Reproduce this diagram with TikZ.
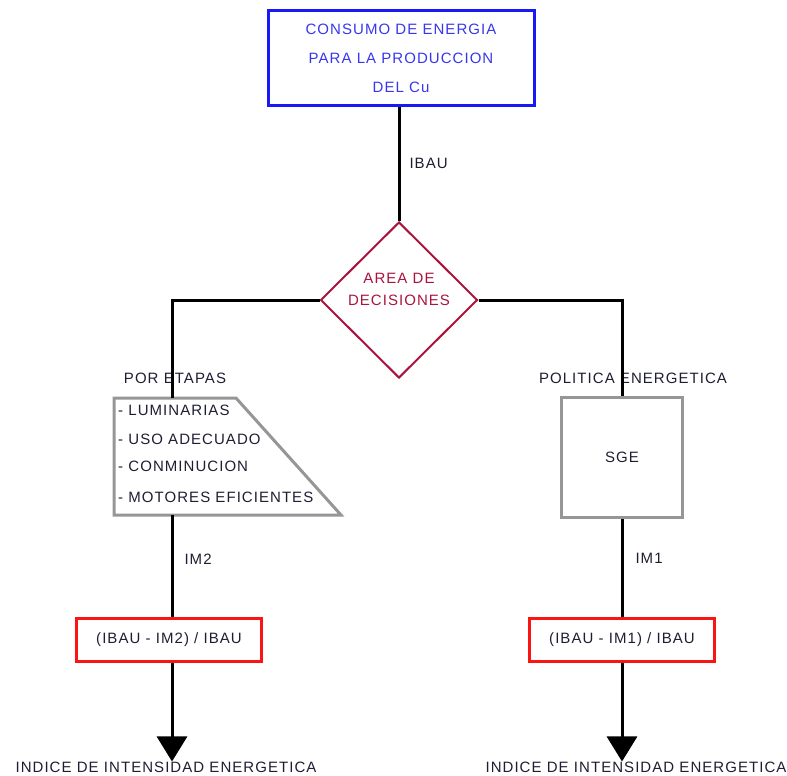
\documentclass[tikz,border=0pt]{standalone}
\usepackage{fontspec}
\setmainfont[LetterSpace=7]{Liberation Sans}
\usetikzlibrary{shapes.geometric,arrows.meta}
\definecolor{topblue}{RGB}{25, 25, 245}
\definecolor{toptext}{RGB}{55, 55, 235}
\definecolor{decision}{RGB}{170, 20, 60}
\definecolor{boxgray}{RGB}{150, 150, 150}
\definecolor{resred}{RGB}{250, 20, 20}
\definecolor{plain}{RGB}{30, 30, 50}

\tikzset{
	lbl/.style={text=plain, font=\fontsize{15}{18}\selectfont, inner sep=0pt},
	link/.style={draw=black, line width=3pt},
	resbox/.style={draw=resred, line width=3pt, minimum width=185pt, minimum height=43pt, lbl}
}

\begin{document}
\begin{tikzpicture}[x=1pt, y=-1pt]
			\useasboundingbox (0, 0) rectangle (787, 776);
			% boxes
			\node [draw=topblue, line width=3pt, minimum width=266pt, minimum height=94pt, align=center, text=toptext, font=\fontsize{15}{29}\selectfont] (consumo) at (401, 58) {CONSUMO DE ENERGIA\\PARA LA PRODUCCION\\DEL Cu};
			\node [diamond, draw=decision, line width=2pt, minimum width=157pt, minimum height=156pt, inner sep=0pt] (area) at (399, 300) {};
			\node [lbl, text=decision, align=center, font=\fontsize{15}{22}\selectfont] (areatxt) at (399, 289) {AREA DE\\DECISIONES};
			\draw [draw=boxgray, line width=3pt] (114, 398) -- (236, 398) -- (341, 515) -- (114, 515) -- cycle;
			\coordinate (etapastop) at (172, 398);
			\coordinate (etapasbot) at (172, 515);
			\foreach \y/\t in {410/LUMINARIAS, 439/USO ADECUADO, 466/CONMINUCION, 497/MOTORES EFICIENTES}
				\node [lbl, anchor=west] (item\y) at (118, \y) {- \t};
			\node [draw=boxgray, line width=3pt, minimum width=121pt, minimum height=120pt, lbl] (sge) at (622, 457.5) {SGE};
			\node [resbox] (res2) at (169, 640) {(IBAU - IM2) / IBAU};
			\node [resbox] (res1) at (622, 640) {(IBAU - IM1) / IBAU};
			% texts
			\node [lbl] (etapas) at (175, 378) {POR ETAPAS};
			\node [lbl] (politica) at (633, 378) {POLITICA ENERGETICA};
			\node [lbl] (indice2) at (166, 767) {INDICE DE INTENSIDAD ENERGETICA};
			\node [lbl] (indice1) at (636, 767) {INDICE DE INTENSIDAD ENERGETICA};
			% connectors
			\draw [link] (area.north |- consumo.south) -- (area.north) node[pos=0.5, right=9pt, lbl]{IBAU};
			\draw [link] (area.west) -| (etapastop);
			\draw [link] (area.east) -| (sge.north);
			\draw [link] (etapasbot) -- (etapasbot |- res2.north) node[pos=0.43, right=11pt, lbl]{IM2};
			\draw [link] (sge.south) -- (res1.north) node[pos=0.4, right=12pt, lbl]{IM1};
			\draw [link, -{Triangle[width=30pt, length=25pt]}] (etapasbot |- res2.south) -- (etapasbot |- indice2.north);
			\draw [link, -{Triangle[width=30pt, length=25pt]}] (res1.south) -- (res1.south |- indice1.north);
		\end{tikzpicture}
\end{document}
